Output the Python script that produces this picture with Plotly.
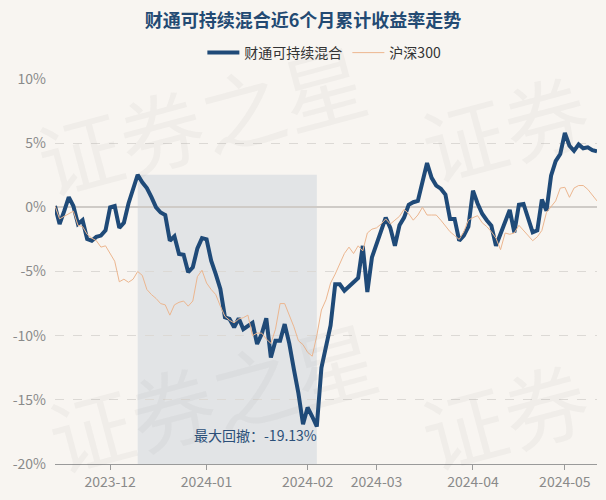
import pandas as pd
import plotly.graph_objects as go

# ---- data ----
holidays = ["2024-01-01", "2024-02-09", "2024-02-12", "2024-02-13", "2024-02-14",
            "2024-02-15", "2024-02-16", "2024-04-04", "2024-04-05",
            "2024-05-01", "2024-05-02", "2024-05-03"]
dates = [d.strftime("%Y-%m-%d") for d in
         pd.bdate_range("2023-11-15", "2024-05-15", freq="C", holidays=holidays)]

fund_name = "财通可持续混合"
index_name = "沪深300"

fund = [
    0.1, -1.3, -0.3, 0.8, 0.1, -1.3, -1.0, -2.47, -2.6, -2.3,
    -2.2, -1.8, 0.0, 0.1, -1.6, -1.2, 0.3, 1.5, 2.54, 1.95,
    1.5, 0.8, 0.0, -0.4, -0.6, -2.6, -2.26, -3.64, -3.7, -5.06,
    -4.67, -3.2, -2.4, -2.5, -4.16, -5.2, -6.36, -8.57, -8.7, -9.35,
    -8.65, -9.5, -9.2, -9.0, -10.65, -9.87, -8.65, -11.7, -10.4, -10.4,
    -9.1, -10.6, -12.6, -14.5, -16.9, -15.6, -16.3, -17.08, -12.5, -10.8,
    -9.2, -6.0, -6.0, -6.5, -6.2, -5.8, -5.5, -3.0, -6.6, -3.9,
    -2.8, -1.8, -0.8, -1.6, -3.0, -1.4, -0.8, 0.2, 0.4, 0.5,
    2.0, 3.45, 2.3, 1.7, 1.45, 1.0, -0.9, -0.9, -2.6, -2.2,
    -1.5, 1.3, 0.3, -0.5, -1.0, -1.43, -3.0, -2.0, -1.0, -0.2,
    -1.95, 0.2, 0.26, -0.9, -1.95, -1.8, 0.6, -0.26, 2.46, 3.6,
    4.15, 5.79, 4.8, 4.4, 4.9, 4.6, 4.67, 4.46, 4.36,
]

csi300 = [
    0.1, -0.9, -0.7, -0.5, -0.3, -1.4, -1.5, -2.1, -2.4, -2.6,
    -3.1, -3.0, -3.6, -4.2, -5.8, -5.6, -5.84, -5.6, -5.0, -5.3,
    -6.4, -6.8, -7.1, -7.5, -7.6, -8.4, -7.6, -7.4, -7.3, -7.7,
    -7.3, -5.4, -4.9, -5.9, -6.4, -6.8, -7.7, -8.5, -8.8, -9.0,
    -8.7, -8.6, -8.4, -10.0, -9.8, -9.8, -10.26, -10.6, -9.5, -7.5,
    -7.5, -8.4, -9.3, -10.4, -10.7, -11.3, -11.6, -10.0, -8.0, -7.2,
    -5.9, -5.2, -4.4, -3.6, -3.1, -3.6, -3.0, -3.4, -2.0, -1.7,
    -1.6, -1.3, -0.9, -1.3, -1.0, -0.7, -0.15, -0.5, -1.0, -0.6,
    0.0, -0.6, -0.6, -0.6, -1.0, -1.5, -1.9, -2.2, -2.5, -1.9,
    -1.0, -0.8, -0.65, -1.2, -1.5, -1.9, -2.4, -3.3, -2.0, -2.1,
    -2.0, -1.4, -1.8, -2.2, -2.6, -2.3, -1.8, -0.4, 0.1, 0.5,
    1.5, 1.56, 0.78, 1.5, 1.7, 1.7, 1.4, 0.9, 0.5,
]

tick_labels = ["2023-12", "2024-01", "2024-02", "2024-03", "2024-04", "2024-05"]
y_ticks = [-20, -15, -10, -5, 0, 5, 10]
max_drawdown_text = "最大回撤：-19.13%"
title_text = "财通可持续混合近6个月累计收益率走势"
watermark = "证券之星"
watermark_edge = "证券"

# ---- derived: max drawdown window ----
tickvals = [next(d for d in dates if d.startswith(t)) for t in tick_labels]
best_dd, peak_i, trough_i, run_peak = 0.0, 0, 0, 0
for i, v in enumerate(fund):
    if v > fund[run_peak]:
        run_peak = i
    dd = (1 + v / 100) / (1 + fund[run_peak] / 100) - 1
    if dd < best_dd:
        best_dd, peak_i, trough_i = dd, run_peak, i

FONT = "Noto Sans CJK SC"
BG = "#f8f5f1"
NAVY = "#1f4a78"
ORANGE = "#ecb68f"

fig = go.Figure()
fig.add_trace(go.Scatter(x=dates, y=fund, name=fund_name, mode="lines",
                         line=dict(color=NAVY, width=4)))
fig.add_trace(go.Scatter(x=dates, y=csi300, name=index_name, mode="lines",
                         line=dict(color=ORANGE, width=1)))

# drawdown shading
fig.add_shape(type="rect", xref="x", yref="y", x0=dates[peak_i], x1=dates[trough_i],
              y0=y_ticks[0], y1=fund[peak_i], fillcolor="rgba(175,190,205,0.30)",
              line=dict(width=0), layer="below")

annotations = [
    dict(x=dates[trough_i], y=fund[trough_i], xref="x", yref="y", text=max_drawdown_text,
         showarrow=False, xanchor="right", yanchor="top", yshift=4, xshift=2,
         font=dict(family=FONT, size=14, color="#2b4f78")),
]
wm_font = dict(family=FONT, size=84, color="rgba(120,120,120,0.06)")
for (wx, wy) in [(0.27, 0.90), (0.29, 0.18)]:
    annotations.append(dict(x=wx, y=wy, xref="paper", yref="paper", text=watermark,
                            showarrow=False, textangle=-15,
                            xanchor="center", yanchor="middle", font=wm_font))
for wy in [0.88, 0.13]:
    annotations.append(dict(x=1.0, y=wy, xref="paper", yref="paper", text=watermark_edge,
                            showarrow=False, textangle=-15, xshift=6,
                            xanchor="right", yanchor="middle", font=wm_font))

fig.update_layout(
    width=606, height=500,
    paper_bgcolor=BG, plot_bgcolor=BG,
    margin=dict(l=55, r=9, t=79, b=36),
    title=dict(text="<b>" + title_text + "</b>", x=0.5, xref="container", xanchor="center",
               y=0.958, yanchor="middle",
               font=dict(family=FONT, size=18, color="#234a73")),
    legend=dict(orientation="h", x=0.497, xanchor="center", y=1.0675, yanchor="middle",
                font=dict(family=FONT, size=14, color="#333333"),
                bgcolor="rgba(0,0,0,0)", itemwidth=32),
    showlegend=True,
    annotations=annotations,
    xaxis=dict(type="category", range=[0, len(dates) - 1], tickmode="array",
               tickvals=tickvals, ticktext=tick_labels,
               showgrid=False, zeroline=False, showline=True, linecolor="#9a9a9a",
               linewidth=1, ticks="outside", ticklen=5, tickcolor="#9a9a9a",
               tickfont=dict(family=FONT, size=14, color="#8a8a8a")),
    yaxis=dict(range=[y_ticks[0], y_ticks[-1]], tickmode="array", tickvals=y_ticks,
               ticktext=[f"{v}%" for v in y_ticks],
               showgrid=True, gridcolor="#dcd9d5", griddash="dash", gridwidth=1,
               zeroline=True, zerolinecolor="#cfcbc7", zerolinewidth=2,
               showline=False, ticks="", ticklabelstandoff=8,
               tickfont=dict(family=FONT, size=14, color="#8a8a8a")),
    hovermode=False,
)

fig.write_html("out.html", config={"displayModeBar": False},
               post_script="document.body.style.margin='0';")
